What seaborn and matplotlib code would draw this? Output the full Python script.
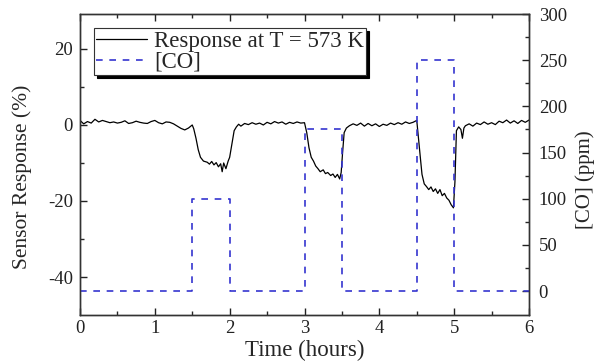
import numpy as np
import pandas as pd
import matplotlib.pyplot as plt
import seaborn as sns

# sensor response (hours, %)
resp_t = [0, 0.05, 0.1, 0.15, 0.2, 0.25, 0.3, 0.35, 0.4, 0.45, 0.5, 0.55, 0.6, 0.65, 0.7,
          0.75, 0.8, 0.85, 0.9, 0.95, 1.0, 1.05, 1.1, 1.15, 1.2, 1.25, 1.3, 1.35, 1.4, 1.45, 1.5,
          1.52, 1.55, 1.58, 1.61, 1.65, 1.7, 1.73, 1.76, 1.79, 1.82, 1.85, 1.88, 1.9, 1.92, 1.95,
          1.98, 2.0, 2.03, 2.06, 2.09, 2.12,
          2.15, 2.2, 2.25, 2.3, 2.35, 2.4, 2.45, 2.5, 2.55, 2.6, 2.65, 2.7, 2.75, 2.8, 2.85, 2.9,
          2.95, 3.0,
          3.03, 3.06, 3.09, 3.12, 3.15, 3.18, 3.21, 3.25, 3.28, 3.31, 3.35, 3.38, 3.41, 3.44, 3.47,
          3.49, 3.51, 3.53, 3.56, 3.6,
          3.65, 3.7, 3.75, 3.8, 3.85, 3.9, 3.95, 4.0, 4.05, 4.1, 4.15, 4.2, 4.25, 4.3, 4.35, 4.4,
          4.45, 4.5,
          4.52, 4.55, 4.57, 4.6, 4.63, 4.66, 4.69, 4.72, 4.75, 4.78, 4.81, 4.84, 4.87, 4.9, 4.93,
          4.96, 4.99, 5.01, 5.03, 5.06, 5.09, 5.11, 5.13,
          5.15, 5.2, 5.25, 5.3, 5.35, 5.4, 5.45, 5.5, 5.55, 5.6, 5.65, 5.7, 5.75, 5.8, 5.85, 5.9,
          5.95, 6.0]
resp_v = [1.2, 0.3, 0.9, 0.5, 1.5, 0.8, 1.2, 0.9, 0.6, 0.8, 0.5, 0.7, 1.1, 0.4, 0.6,
          1.0, 0.7, 0.5, 0.4, 0.9, 1.2, 0.6, 0.3, 0.8, 0.7, 0.3, -0.3, -0.9, -1.3, -0.8, 0.0,
          -1.0, -3.5, -6.5, -8.5, -9.5, -9.8, -10.3, -9.6, -10.5, -9.9, -11.0, -10.2, -12.3, -10.0, -11.5,
          -9.5, -8.5, -5.0, -1.5, -0.5, 0.2,
          -0.3, 0.4, 0.1, 0.6, 0.2, 0.5, 0.0, 0.7, 0.3, 0.9, 0.5, 0.8, 0.2, 0.7, 0.4, 0.8,
          0.5, 0.6,
          -2.0, -6.0, -8.5, -9.5, -10.8, -11.5, -12.3, -11.8, -12.8, -12.5, -13.3, -12.9, -13.8, -13.0, -14.2,
          -12.5, -7.0, -2.0, -0.8, -0.2,
          0.3, -0.1, 0.5, -0.3, 0.4, -0.2, 0.3, -0.4, 0.2, -0.1, 0.5, 0.1, 0.6, 0.2, 0.8, 0.4,
          0.7, 1.2,
          -3.0, -9.0, -13.0, -15.5, -16.2, -17.0, -16.3, -17.5, -16.8, -18.0, -17.0, -18.6, -18.0, -19.2, -19.8,
          -21.0, -21.8, -15.0, -1.5, -0.5, -1.2, -3.5, -0.8,
          -0.2, 0.3, -0.3, 0.5, 0.1, 0.8, 0.2, 0.6, 0.1, 1.0, 0.6, 1.3, 0.5, 1.1, 0.4, 1.2,
          0.7, 1.3]

# CO concentration steps (hours, ppm)
co_t = [0, 1.5, 2.0, 3.0, 3.5, 4.5, 5.0, 6.0]
co_ppm = [0, 100, 0, 175, 0, 250, 0, 0]

sns.set_style('ticks')
plt.rcParams['font.family'] = ['Liberation Serif', 'DejaVu Serif']
plt.rcParams['xtick.direction'] = 'in'
plt.rcParams['ytick.direction'] = 'in'
plt.rcParams['axes.unicode_minus'] = False

fig = plt.figure(figsize=(6, 3.64), dpi=100)
ax = fig.add_axes([0.1333, 0.1346, 0.7484, 0.8269])
ax2 = ax.twinx()

sns.lineplot(x=resp_t, y=resp_v, ax=ax, color='black', linewidth=0.9,
             estimator=None, sort=False, label='Response at T = 573 K', legend=False)
sns.lineplot(x=co_t, y=co_ppm, ax=ax2, color='#3535d0', linewidth=1.2,
             drawstyle='steps-post', linestyle=(0, (4, 4)), estimator=None,
             label='[CO]', legend=False)

ax.set_xlim(0, 6)
ax.set_ylim(-50, 29.2)
ax2.set_ylim(-26, 300)
ax.set_xticks(np.arange(0, 7, 1))
ax.set_xticks(np.arange(0.5, 6, 1), minor=True)
ax.set_yticks([-40, -20, 0, 20])
ax.set_yticks([-30, -10, 10], minor=True)
ax2.set_yticks(np.arange(0, 301, 50))
ax2.set_yticks(np.arange(25, 300, 50), minor=True)

for a in (ax, ax2):
    a.tick_params(which='major', length=5, width=1, labelsize=13.5, colors='#222222')
    a.tick_params(which='minor', length=3, width=1)
    for s in a.spines.values():
        s.set_visible(True)
        s.set_color('#333333')
        s.set_linewidth(1)
ax.tick_params(axis='x', which='both', top=True)
ax.tick_params(axis='y', which='major', pad=5)
ax2.tick_params(axis='y', which='major', pad=7)

ax.set_xlabel('Time (hours)', fontsize=16.5, labelpad=2)
ax.set_ylabel('Sensor Response (%)', fontsize=15.5)
ax2.set_ylabel('[CO] (ppm)', fontsize=15)
ax.yaxis.set_label_coords(-0.107, 0.458)
ax2.yaxis.set_label_coords(1.102, 0.449)

h1, l1 = ax.get_legend_handles_labels()
h2, l2 = ax2.get_legend_handles_labels()
leg = ax2.legend(h1 + h2, l1 + l2, loc='upper left', fontsize=16.5, frameon=True,
                 fancybox=False, edgecolor='#333333', framealpha=1,
                 shadow={'color': 'black', 'alpha': 1}, handlelength=2.2,
                 labelspacing=0.0, borderpad=0.12, handletextpad=0.3,
                 borderaxespad=0.6)
leg.get_frame().set_linewidth(0.8)

fig.savefig('out.png', dpi=100)
